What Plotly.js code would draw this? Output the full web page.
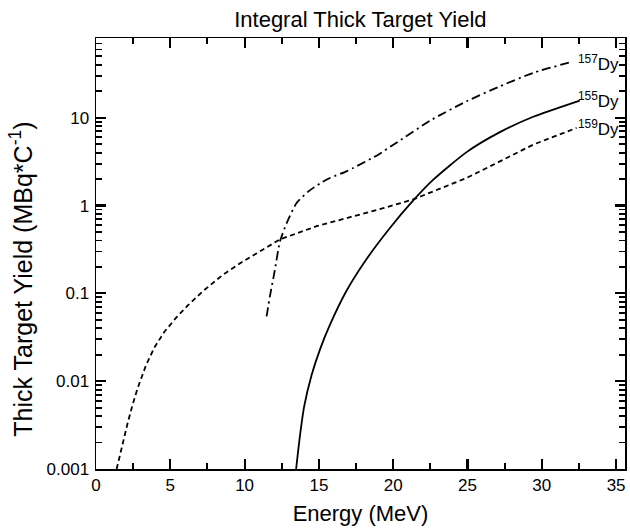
<!DOCTYPE html>
<html><head><meta charset="utf-8">
<script src="https://cdn.plot.ly/plotly-3.0.1.min.js"></script>
<style>body{margin:0;padding:0;background:#fff}</style>
</head><body><div id="chart" style="width:630px;height:530px"></div>
<script>
const e159 = [1.39, 1.68, 2.13, 2.46, 2.8, 3.36, 3.92, 4.59, 5.38, 6.16, 7.17, 8.52, 9.86, 10.76, 12.38, 14.85, 17.09, 19.33, 21.35, 22.7, 24.94, 27.18, 29.42, 32.34];
const y159 = [0.001, 0.00166, 0.00334, 0.00537, 0.00832, 0.0151, 0.024, 0.0363, 0.0525, 0.0724, 0.105, 0.162, 0.229, 0.282, 0.412, 0.582, 0.733, 0.933, 1.175, 1.445, 2.06, 3.18, 4.94, 7.66];
const e155 = [13.47, 13.5, 13.72, 14.01, 14.51, 15.07, 15.74, 16.86, 18.21, 19.78, 21.35, 22.7, 24.94, 27.18, 29.42, 32.56];
const y155 = [0.001, 0.00112, 0.00235, 0.00516, 0.01175, 0.0229, 0.0437, 0.107, 0.246, 0.555, 1.143, 1.97, 4.06, 6.85, 10.26, 15.7];
const e157 = [11.48, 11.7, 12.04, 12.38, 12.83, 13.5, 14.3, 15.1, 15.74, 16.86, 17.31, 18.88, 20.3, 22.5, 24.94, 27.18, 29.42, 32.1];
const y157 = [0.0547, 0.092, 0.186, 0.39, 0.63, 1.07, 1.45, 1.8, 2.06, 2.45, 2.68, 3.70, 5.3, 9.3, 15.4, 22.8, 32.4, 43.8];
const labels = ["<sup>157</sup>Dy", "<sup>155</sup>Dy", "<sup>159</sup>Dy"];
const labelY = [42, 16.1, 7.66];
const yTickVals = [0.001, 0.01, 0.1, 1, 10];
const yTickText = ["0.001", "0.01", "0.1", "1", "10"];
const yMinorVals = [];
[0.001, 0.01, 0.1, 1, 10].forEach(d => { for (let k = 2; k <= 9; k++) yMinorVals.push(d * k); });
const xMinorVals = [2.5, 7.5, 12.5, 17.5, 22.5, 27.5, 32.5];

const traces = [
  {x: e159, y: y159, mode: 'lines', line: {color: '#000', width: 1.8, dash: '5px,3.5px'}},
  {x: e155, y: y155, mode: 'lines', line: {color: '#000', width: 1.8, shape: 'spline', smoothing: 0.6}},
  {x: e157, y: y157, mode: 'lines', line: {color: '#000', width: 1.8, dash: '9px,4px,2px,4px', shape: 'spline', smoothing: 0.6}}
];
const font = {family: 'Liberation Sans, Arial, sans-serif', color: '#000'};
const tickCol = 'black';
const layout = {
  width: 630, height: 530,
  margin: {l: 96, r: 5, t: 38, b: 61},
  showlegend: false,
  paper_bgcolor: '#fff', plot_bgcolor: '#fff',
  font: Object.assign({size: 17}, font),
  title: {text: 'Integral Thick Target Yield', font: Object.assign({size: 22}, font), x: 0.572, xanchor: 'center', yref: 'container', y: 0.963, yanchor: 'middle'},
  xaxis: {
    range: [0, 35.6], showgrid: false, zeroline: false,
    showline: true, linecolor: '#000', linewidth: 1.5, mirror: 'allticks',
    ticks: 'inside', ticklen: 10, tickwidth: 2.2, tickcolor: tickCol, dtick: 5, tick0: 0,
    minor: {ticks: 'inside', ticklen: 6, tickwidth: 2, tickcolor: tickCol, tickmode: 'array', tickvals: xMinorVals, showgrid: false},
    tickfont: Object.assign({size: 17}, font),
    title: {text: 'Energy (MeV)', font: Object.assign({size: 22}, font), standoff: 11}
  },
  yaxis: {
    type: 'log', range: [-3, 1.908], showgrid: false, zeroline: false,
    showline: true, linecolor: '#000', linewidth: 1.5, mirror: 'allticks',
    ticks: 'inside', ticklen: 10, tickwidth: 2.2, tickcolor: tickCol,
    tickmode: 'array', tickvals: yTickVals, ticktext: yTickText, ticklabelstandoff: 2,
    minor: {ticks: 'inside', ticklen: 6, tickwidth: 1.8, tickcolor: tickCol, tickmode: 'array', tickvals: yMinorVals, showgrid: false},
    tickfont: Object.assign({size: 17}, font)
  },
  annotations: labels.map((t, i) => ({
    x: 35.35, y: Math.log10(labelY[i]), xref: 'x', yref: 'y', text: t, showarrow: false,
    xanchor: 'right', yanchor: 'middle', font: Object.assign({size: 17}, font)
  })).concat([{
    text: 'Thick Target Yield (MBq*C<sup>-1</sup>)', textangle: -90, showarrow: false,
    xref: 'paper', yref: 'paper', x: -0.1418, y: 0.4415, xanchor: 'center', yanchor: 'middle',
    font: Object.assign({size: 25}, font)
  }])
};
Plotly.newPlot('chart', traces, layout, {displayModeBar: false, staticPlot: true});
</script></body></html>
